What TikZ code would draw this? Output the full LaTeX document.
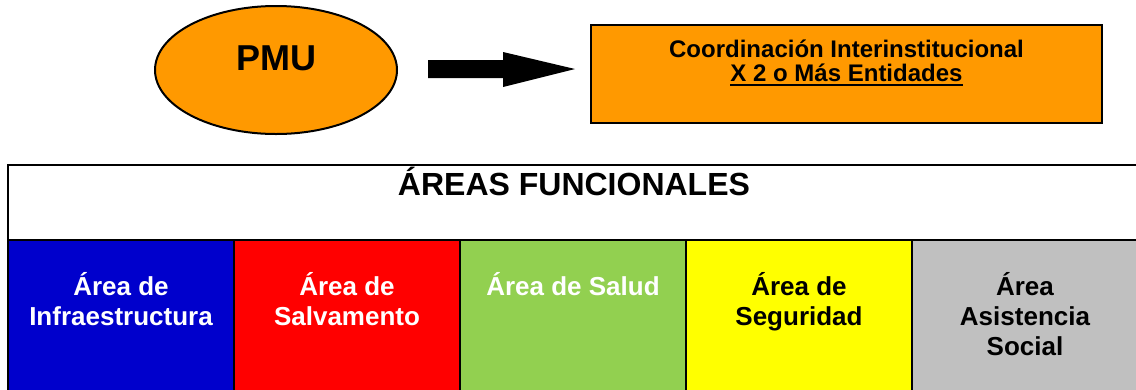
\documentclass[tikz,border=0pt]{standalone}
\usepackage{fontspec}
\setmainfont{Liberation Sans}
\usetikzlibrary{shapes.geometric}
\definecolor{orng}{HTML}{FF9900}
\definecolor{cblue}{HTML}{0000CC}
\definecolor{cred}{HTML}{FF0000}
\definecolor{cgreen}{HTML}{92D050}
\definecolor{cyell}{HTML}{FFFF00}
\definecolor{cgray}{HTML}{C0C0C0}
\newcommand\myul[1]{\setbox0\hbox{#1}\rlap{\rule[-4.5pt]{\wd0}{2pt}}\box0}
\begin{document}
\begin{tikzpicture}[x=1pt,y=-1pt,line width=2pt,
  colbox/.style={draw=black, minimum width=226pt, minimum height=155pt, anchor=north west, inner sep=0pt},
  coltext/.style={anchor=base, yshift=-86pt, align=center, inner sep=0pt,
    font=\fontsize{26}{30}\selectfont\bfseries}]
\clip (0,0) rectangle (1136,389);
\node[ellipse, draw=black, fill=orng, minimum width=242pt, minimum height=128pt, inner sep=0pt,
  label={[anchor=base, yshift=-65pt, inner sep=0pt, font=\fontsize{36}{40}\selectfont\bfseries]north:PMU}] (pmu) at (276,70) {};
\node[draw=black, fill=orng, minimum width=511pt, minimum height=98pt, anchor=north west, inner sep=0pt,
  label={[anchor=base, yshift=-57pt, align=center, inner sep=0pt, font=\fontsize{24}{24}\selectfont\bfseries]north:Coordinación Interinstitucional\\\myul{X 2 o Más Entidades}}] (coord) at (590,24) {};
\coordinate (a0) at (428,69);
\fill[black] (a0) ++(0,-9) -- ++(75,0) -- ++(0,-8) -- (575,69) -- (503,87) -- (503,78) -- (428,78) -- cycle;
\node[draw=black, fill=white, minimum width=1132pt, minimum height=75pt, anchor=north west, inner sep=0pt,
  label={[anchor=base, yshift=-31pt, inner sep=0pt, font=\fontsize{32}{36}\selectfont\bfseries]north:ÁREAS FUNCIONALES}] (hdr) at (7,164) {};
\node[colbox, fill=cblue, label={[coltext, text=white]north:Área de\\Infraestructura}] (c1) at (7,239) {};
\node[colbox, fill=cred, label={[coltext, text=white]north:Área de\\Salvamento}] (c2) at (233,239) {};
\node[colbox, fill=cgreen, label={[coltext, yshift=30pt, text=white]north:Área de Salud}] (c3) at (459,239) {};
\node[colbox, fill=cyell, label={[coltext, text=black]north:Área de\\Seguridad}] (c4) at (685,239) {};
\node[colbox, fill=cgray, label={[coltext, yshift=-30pt, text=black]north:Área\\Asistencia\\Social}] (c5) at (911,239) {};
\end{tikzpicture}
\end{document}
